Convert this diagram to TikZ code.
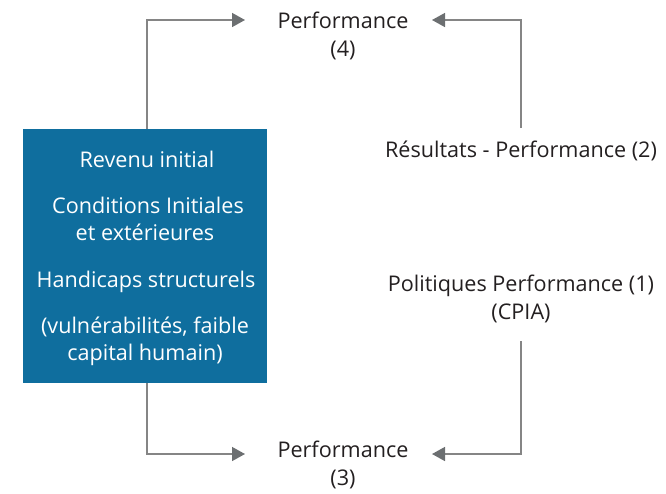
\documentclass[tikz,border=0pt]{standalone}
\usepackage{fontspec}
\setmainfont{Open Sans}
\usetikzlibrary{arrows.meta}
\definecolor{boxblue}{HTML}{0F6E9E}
\definecolor{linegray}{HTML}{858585}
\definecolor{tipgray}{HTML}{6C6F71}
\definecolor{ink}{HTML}{231F20}
\tikzset{
  lbl/.style={inner sep=0pt, anchor=base, font=\fontsize{21.6}{28}\selectfont, text=ink},
  conn/.style={draw=linegray, line width=1.5pt,
    -{Triangle[length=13pt,width=14pt,fill=tipgray,color=tipgray]}},
  bluebox/.style={fill=boxblue, draw=none, minimum width=244pt, minimum height=254pt, inner sep=0pt},
  boxtext/.style={inner sep=0pt, anchor=base, font=\fontsize{21.6}{28}\selectfont, text=white}
}
\begin{document}
\begin{tikzpicture}[x=1pt,y=-1pt]
\useasboundingbox (0,0) rectangle (666,493);
\node[bluebox] (box) at (145,256) {};
\node[boxtext] (bt1) at (147,167) {Revenu initial};
\node[boxtext] (bt2) at (148,213) {Conditions Initiales};
\node[boxtext] (bt3) at (145,240) {et extérieures};
\node[boxtext] (bt4) at (146,287) {Handicaps structurels};
\node[boxtext] (bt5) at (145,333) {(vulnérabilités, faible};
\node[boxtext] (bt6) at (145,360) {capital humain)};
\node[lbl] (p4) at (343,28) {Performance};
\node[lbl] (p4n) at (343,56) {(4)};
\node[lbl] (p3) at (343,457) {Performance};
\node[lbl] (p3n) at (343,485) {(3)};
\node[lbl] (r2) at (521,157) {Résultats - Performance (2)};
\node[lbl] (pol) at (521,291) {Politiques Performance (1)};
\node[lbl] (cpia) at (521,319) {(CPIA)};
\draw[conn] ([xshift=2pt]box.north) |- ([xshift=-98pt,yshift=8pt]p4.base);
\draw[conn] ([xshift=2pt]box.south) |- ([xshift=-98pt,yshift=3pt]p3.base);
\draw[conn] ([yshift=29pt]r2.base) |- ([xshift=89pt,yshift=8pt]p4.base);
\draw[conn] ([yshift=-22pt]cpia.base) |- ([xshift=89pt,yshift=3pt]p3.base);
\end{tikzpicture}
\end{document}
